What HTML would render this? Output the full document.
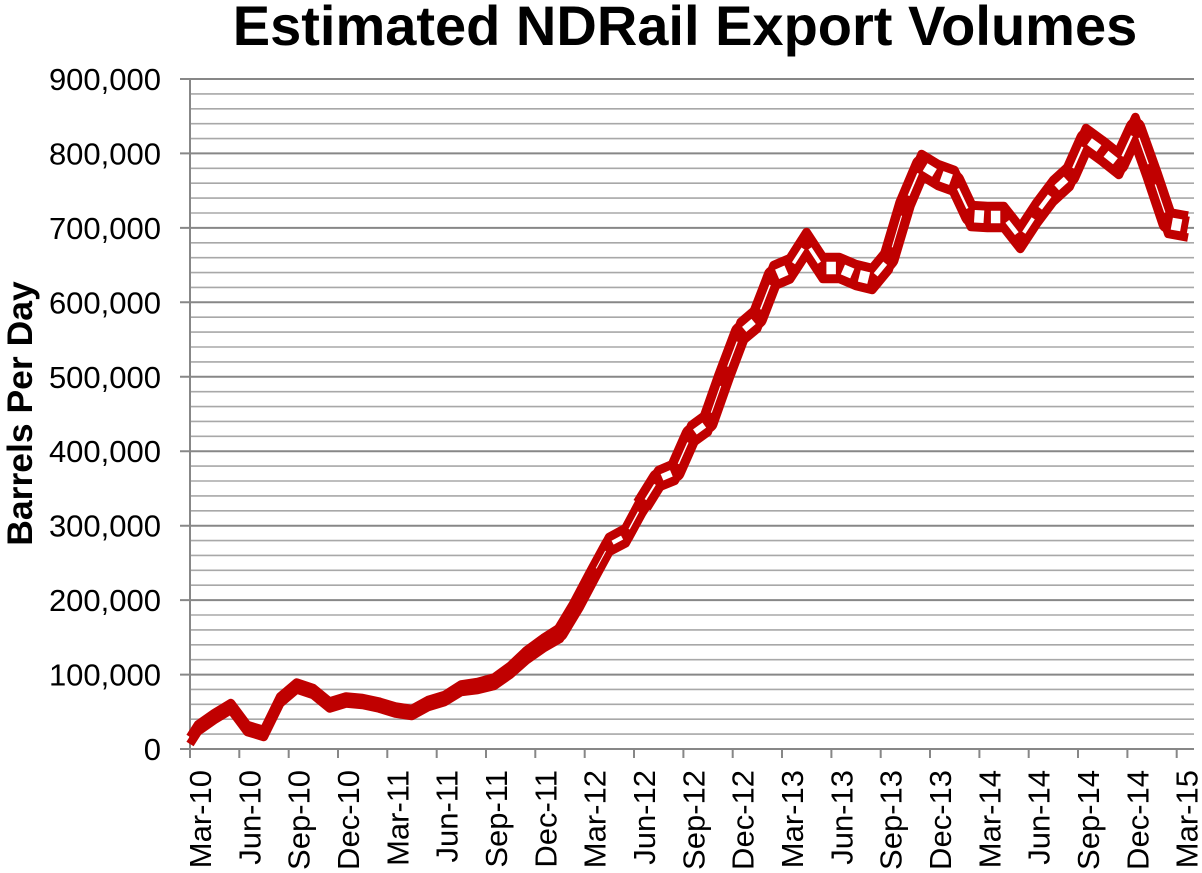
<!DOCTYPE html>
<html>
<head>
<meta charset="utf-8">
<style>
html,body{margin:0;padding:0;background:#fff;}
svg{display:block;}
text{font-family:"Liberation Sans",Arial,sans-serif;fill:#000;}
</style>
</head>
<body>
<svg width="1202" height="873" viewBox="0 0 1202 873" xmlns="http://www.w3.org/2000/svg">
<rect x="0" y="0" width="1202" height="873" fill="#fff"/>
<!-- title -->
<text x="685" y="45" font-size="56" font-weight="bold" text-anchor="middle">Estimated NDRail Export Volumes</text>
<!-- y axis title -->
<text transform="translate(32,413.5) rotate(-90)" font-size="35.5" font-weight="bold" text-anchor="middle">Barrels Per Day</text>

<!-- minor gridlines -->
<path fill="none" stroke="#a8a8a8" stroke-width="1.6" d="
M190 734.1H1194M190 719.2H1194M190 704.3H1194M190 689.4H1194
M190 659.7H1194M190 644.8H1194M190 629.9H1194M190 615.0H1194
M190 585.2H1194M190 570.3H1194M190 555.4H1194M190 540.6H1194
M190 510.8H1194M190 495.9H1194M190 481.0H1194M190 466.1H1194
M190 436.3H1194M190 421.4H1194M190 406.6H1194M190 391.7H1194
M190 361.9H1194M190 347.0H1194M190 332.1H1194M190 317.2H1194
M190 287.4H1194M190 272.6H1194M190 257.7H1194M190 242.8H1194
M190 213.0H1194M190 198.1H1194M190 183.2H1194M190 168.3H1194
M190 138.6H1194M190 123.7H1194M190 108.8H1194M190 93.9H1194"/>
<!-- major gridlines with ticks -->
<path fill="none" stroke="#878787" stroke-width="2" d="
M180 674.6H1194M180 600.1H1194M180 525.7H1194M180 451.2H1194
M180 376.8H1194M180 302.3H1194M180 227.9H1194M180 153.4H1194M180 79H1194
M180 749H1194M190 79V749"/>
<!-- x ticks -->
<path fill="none" stroke="#878787" stroke-width="2" d="
M190 749V758M239.3 749V758M288.7 749V758M338 749V758M387.3 749V758M436.7 749V758
M486 749V758M535.3 749V758M584.7 749V758M634 749V758M683.4 749V758M732.7 749V758
M782 749V758M831.4 749V758M880.7 749V758M930 749V758M979.4 749V758M1028.7 749V758
M1078 749V758M1127.4 749V758M1176.7 749V758"/>

<!-- y labels -->
<g font-size="31" text-anchor="end">
<text x="161" y="760">0</text>
<text x="161" y="685.6">100,000</text>
<text x="161" y="611.1">200,000</text>
<text x="161" y="536.7">300,000</text>
<text x="161" y="462.2">400,000</text>
<text x="161" y="387.8">500,000</text>
<text x="161" y="313.3">600,000</text>
<text x="161" y="238.9">700,000</text>
<text x="161" y="164.4">800,000</text>
<text x="161" y="90">900,000</text>
</g>

<!-- x labels -->
<g font-size="31" text-anchor="end">
<text transform="translate(211,770) rotate(-90)">Mar-10</text>
<text transform="translate(260.3,770) rotate(-90)">Jun-10</text>
<text transform="translate(309.7,770) rotate(-90)">Sep-10</text>
<text transform="translate(359,770) rotate(-90)">Dec-10</text>
<text transform="translate(408.3,770) rotate(-90)">Mar-11</text>
<text transform="translate(457.7,770) rotate(-90)">Jun-11</text>
<text transform="translate(507,770) rotate(-90)">Sep-11</text>
<text transform="translate(556.3,770) rotate(-90)">Dec-11</text>
<text transform="translate(605.7,770) rotate(-90)">Mar-12</text>
<text transform="translate(655,770) rotate(-90)">Jun-12</text>
<text transform="translate(704.4,770) rotate(-90)">Sep-12</text>
<text transform="translate(753.7,770) rotate(-90)">Dec-12</text>
<text transform="translate(803,770) rotate(-90)">Mar-13</text>
<text transform="translate(852.4,770) rotate(-90)">Jun-13</text>
<text transform="translate(901.7,770) rotate(-90)">Sep-13</text>
<text transform="translate(951,770) rotate(-90)">Dec-13</text>
<text transform="translate(1000.4,770) rotate(-90)">Mar-14</text>
<text transform="translate(1049.7,770) rotate(-90)">Jun-14</text>
<text transform="translate(1099,770) rotate(-90)">Sep-14</text>
<text transform="translate(1148.4,770) rotate(-90)">Dec-14</text>
<text transform="translate(1197.7,770) rotate(-90)">Mar-15</text>
</g>

<g fill="none" stroke="#C00000" stroke-linejoin="round" stroke-linecap="butt">
<!-- lower strand -->
<polyline stroke-width="8.5" points="
190,744 198,731.5 214.4,720 230.9,710 247.3,732 263.8,737 280.2,703.5 296.7,689.5 313.1,695 329.6,708.5
346,703.5 362.5,705 378.9,708.5 395.3,713.5 411.8,716 428.2,707 444.7,702 461.1,692 477.6,690 494,686
510.5,674.5 526.9,660 543.3,648.5 559.8,639 576.2,612 592.7,581.6 609.1,552 625.6,543.4 642,513.5 658.5,487.5
674.9,480.8 691.4,444 707.8,432.2 724.2,386 740.7,342.6 757.1,329 773.6,286.5 790,279.5 806.5,254 822.9,279
839.4,279 855.8,286 872.2,290 888.7,270 905.1,215 921.6,176 938,186 954.5,192 970.9,227 987.4,228
1003.8,228 1020.3,249 1036.7,224 1053.2,202 1069.6,187 1086,150 1102.5,162 1118.9,175 1135.4,139 1151.8,185
1168.3,234 1184.7,237 1188,237.6"/>
<!-- upper strand -->
<polyline stroke-width="8.5" points="
190,737 198,724.5 214.4,713 230.9,703 247.3,725 263.8,730 280.2,696.5 296.7,682.5 313.1,688 329.6,701.5
346,696.5 362.5,698 378.9,701.5 395.3,706.5 411.8,709 428.2,700 444.7,695 461.1,684.5 477.6,682 494,677.5
510.5,665.5 526.9,650 543.3,638 559.8,627.5 576.2,600 592.7,568 609.1,537 625.6,528 642,497 658.5,470
674.9,463 691.4,425 707.8,413 724.2,366 740.7,322 757.1,308 773.6,265 790,258 806.5,232 822.9,257
839.4,257 855.8,264 872.2,268 888.7,248 905.1,193 921.6,154 938,164 954.5,170 970.9,205 987.4,206
1003.8,206 1020.3,227 1036.7,202 1053.2,180 1069.6,165 1086,128 1102.5,140 1118.9,153 1135.4,117 1151.8,163
1168.3,212 1184.7,215 1188,215.6"/>
<!-- centre fill strokes -->
<polyline stroke-width="16" points="
526.9,655 543.3,643.25 559.8,633.25 576.2,606 592.7,574.8 609.1,544.5 625.6,535.7 642,505.25"/>
<polyline stroke-width="20" points="
642,505.25 658.5,478.75 674.9,471.9 691.4,434.5 707.8,422.6 724.2,376 740.7,332.3 757.1,318.5 773.6,275.75 790,268.75
806.5,243 822.9,268 839.4,268 855.8,275 872.2,279 888.7,259 905.1,204 921.6,165 938,175 954.5,181
970.9,216 987.4,217 1003.8,217 1020.3,238 1036.7,213 1053.2,191 1069.6,176 1086,139 1102.5,151 1118.9,164
1135.4,128 1151.8,174 1168.3,223 1184.7,226 1188,226.6"/>
</g>
<!-- inner white gaps (per segment, width depends on slope) -->
<g stroke="#fff" stroke-linecap="butt" fill="none">
<line x1="596.2" y1="568.35" x2="605.6" y2="550.95" stroke-width="1"/>
<line x1="612.6" y1="542.63" x2="622.1" y2="537.57" stroke-width="4.4"/>
<line x1="629.1" y1="529.21" x2="638.5" y2="511.74" stroke-width="1.4"/>
<line x1="645.5" y1="499.61" x2="655" y2="484.39" stroke-width="2"/>
<line x1="662" y1="477.29" x2="671.4" y2="473.36" stroke-width="6.9"/>
<line x1="678.4" y1="463.93" x2="687.9" y2="442.47" stroke-width="1.4"/>
<line x1="694.9" y1="431.97" x2="704.3" y2="425.13" stroke-width="6.3"/>
<line x1="711.3" y1="412.67" x2="720.7" y2="385.93" stroke-width="1.1"/>
<line x1="727.7" y1="366.69" x2="737.2" y2="341.61" stroke-width="1.3"/>
<line x1="744.2" y1="329.36" x2="753.6" y2="321.44" stroke-width="6.6"/>
<line x1="760.6" y1="309.39" x2="770.1" y2="284.86" stroke-width="1.5"/>
<line x1="777.1" y1="274.26" x2="786.5" y2="270.24" stroke-width="10.2"/>
<line x1="793.5" y1="263.27" x2="803" y2="248.48" stroke-width="3.6"/>
<line x1="810" y1="248.33" x2="819.4" y2="262.67" stroke-width="3.8"/>
<line x1="826.4" y1="268" x2="835.9" y2="268" stroke-width="12.5"/>
<line x1="842.9" y1="269.49" x2="852.3" y2="273.51" stroke-width="10.6"/>
<line x1="859.3" y1="275.85" x2="868.7" y2="278.15" stroke-width="11.8"/>
<line x1="875.7" y1="274.74" x2="885.2" y2="263.26" stroke-width="5"/>
<line x1="892.2" y1="247.3" x2="901.6" y2="215.7" stroke-width="1"/>
<line x1="908.6" y1="195.69" x2="918.1" y2="173.31" stroke-width="1.9"/>
<line x1="925.1" y1="167.13" x2="934.5" y2="172.87" stroke-width="9.1"/>
<line x1="941.5" y1="176.28" x2="951" y2="179.72" stroke-width="11"/>
<line x1="958" y1="188.46" x2="967.4" y2="208.54" stroke-width="2.3"/>
<line x1="974.4" y1="216.2" x2="983.9" y2="216.8" stroke-width="12.5"/>
<line x1="990.9" y1="217" x2="1000.3" y2="217" stroke-width="12.5"/>
<line x1="1007.3" y1="221.47" x2="1016.8" y2="233.53" stroke-width="4.7"/>
<line x1="1023.8" y1="232.67" x2="1033.2" y2="218.33" stroke-width="3.8"/>
<line x1="1040.2" y1="208.31" x2="1049.7" y2="195.69" stroke-width="4.5"/>
<line x1="1056.7" y1="187.8" x2="1066.1" y2="179.2" stroke-width="6.8"/>
<line x1="1073.1" y1="168.12" x2="1082.5" y2="146.88" stroke-width="2.1"/>
<line x1="1089.5" y1="141.56" x2="1099" y2="148.44" stroke-width="8.2"/>
<line x1="1106" y1="153.77" x2="1115.4" y2="161.23" stroke-width="7.7"/>
<line x1="1122.4" y1="156.33" x2="1131.9" y2="135.67" stroke-width="2.2"/>
<line x1="1138.9" y1="137.8" x2="1148.3" y2="164.2" stroke-width="1.4"/>
<line x1="1155.3" y1="184.44" x2="1164.8" y2="212.56" stroke-width="1.3"/>
<line x1="1171.8" y1="223.64" x2="1181.2" y2="225.36" stroke-width="12.1"/>
</g>
</svg>
</body>
</html>
